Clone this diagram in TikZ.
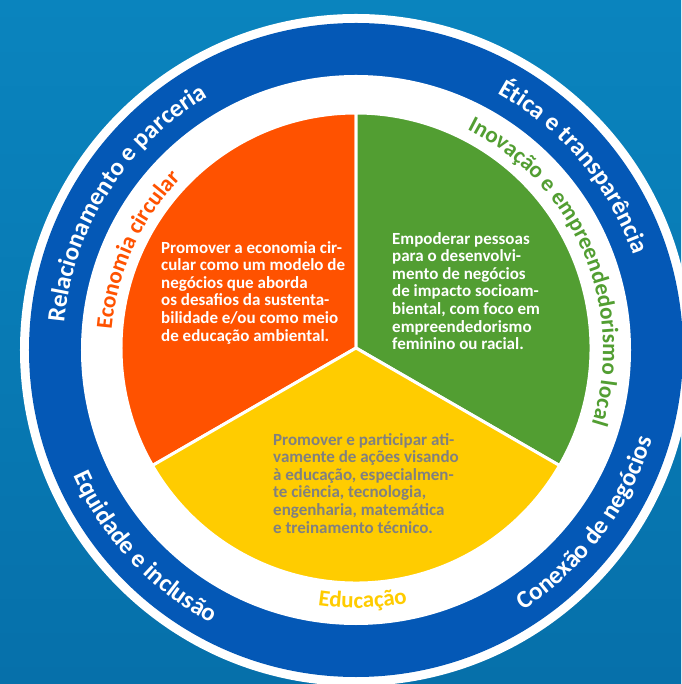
\documentclass[tikz,border=0pt]{standalone}
\usepackage{fontspec}
\setmainfont{Carlito}
\usetikzlibrary{decorations.text}

\definecolor{ringblue}{RGB}{4,88,182}
\definecolor{ecoorange}{RGB}{255,82,0}
\definecolor{inovgreen}{RGB}{82,158,50}
\definecolor{eduyellow}{RGB}{255,204,0}
\definecolor{edugray}{RGB}{128,128,128}
\definecolor{seatop}{RGB}{10,132,190}
\definecolor{seamid}{RGB}{12,160,208}
\definecolor{seabot}{RGB}{6,112,170}

\newcommand{\ringfont}{\bfseries\fontsize{25}{30}\selectfont}
\newcommand{\tagfont}{\bfseries\fontsize{23}{28}\selectfont}

\begin{document}
\begin{tikzpicture}[
        x=1pt, y=1pt,
        sector/.style={draw=white, line width=3pt, line join=round},
        goal/.style={align=left, anchor=north west, inner sep=0pt, font=\bfseries\fontsize{17}{17.6}\selectfont},
        ringcw/.style={decorate, decoration={text along path, text align=center, text color=white, text={|\ringfont|#1}}},
        ringccw/.style={decorate, decoration={text along path, text align=center, text color=white, text={|\ringfont|#1}}},
        tagcw/.style 2 args={decorate, decoration={text along path, text align=center, text color=#1, text={|\tagfont|#2}}}
    ]
    % --- FUNDO ---
    \useasboundingbox (-356,-334) rectangle (325,350);
    \shade[top color=seatop, middle color=seamid, bottom color=seabot] (-356,-334) rectangle (325,350);

    % --- ANEL ---
    \fill[white] (0,0) circle (336);
    \fill[ringblue] (0,0) circle (327);
    \fill[white] (0,0) circle (275);

    % --- SETORES ---
    \begin{scope}[shift={(0,2)}]
        \filldraw[sector, fill=ecoorange] (0,0) -- (90:235) arc[start angle=90, end angle=210, radius=235] -- cycle;
        \filldraw[sector, fill=inovgreen] (0,0) -- (-30:235) arc[start angle=-30, end angle=90, radius=235] -- cycle;
        \filldraw[sector, fill=eduyellow] (0,0) -- (210:235) arc[start angle=210, end angle=330, radius=235] -- cycle;
    \end{scope}

    % --- TEXTOS ---
    \node[goal, text=white] (ecotext) at (-195,109) {Promover a economia cir-\\cular como um modelo de\\negócios que aborda\\os desafios da sustenta-\\bilidade e/ou como meio\\de educação ambiental.};
    \node[goal, text=white] (inovtext) at (36,118) {Empoderar pessoas\\para o desenvolvi-\\mento de negócios\\de impacto socioam-\\biental, com foco em\\empreendedorismo\\feminino ou racial.};
    \node[goal, text=edugray] (edutext) at (-83,-83) {Promover e participar ati-\\vamente de ações visando\\à educação, especialmen-\\te ciência, tecnologia,\\engenharia, matemática\\e treinamento técnico.};

    % --- RÓTULOS DO ANEL ---
    \path[ringcw={Relacionamento e parceria}] (237.5:293) arc[start angle=237.5, end angle=57.5, radius=293];
    \path[ringcw={Ética e transparência}] (130:293) arc[start angle=130, end angle=-50, radius=293];
    \path[ringccw={Conexão de negócios}] (-127:309) arc[start angle=-127, end angle=53, radius=309];
    \path[ringccw={Equidade e inclusão}] (133:309) arc[start angle=133, end angle=313, radius=309];

    % --- RÓTULOS DOS SETORES ---
    \path[tagcw={ecoorange}{Economia circular}] (245.5:245) arc[start angle=245.5, end angle=65.5, radius=245];
    \path[tagcw={inovgreen}{Inovação e empreendedorismo local}] (113:247) arc[start angle=113, end angle=-67, radius=247];
    \path[tagcw={eduyellow}{Educação}] (181.5:258) arc[start angle=181.5, end angle=361.5, radius=258];
\end{tikzpicture}
\end{document}
